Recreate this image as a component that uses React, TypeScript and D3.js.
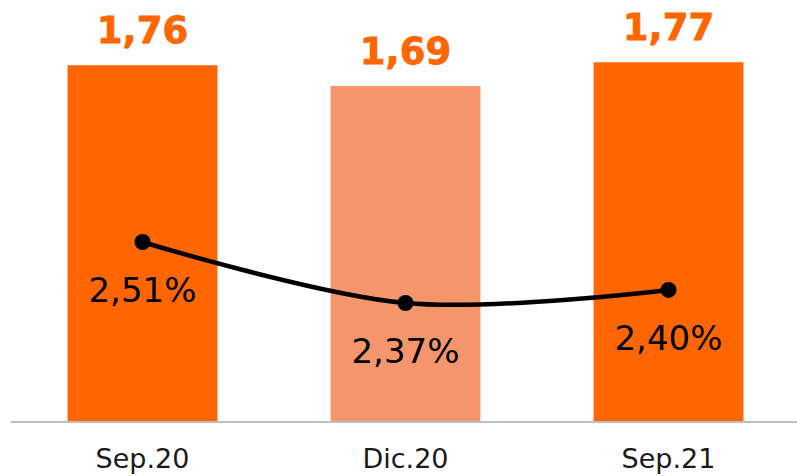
import React from "react";
import * as d3 from "d3";

const categories = ["Sep.20", "Dic.20", "Sep.21"];
const barValues = [1.76, 1.69, 1.77];
const barLabels = ["1,76", "1,69", "1,77"];
const barColors = ["#FF6600", "#F5956B", "#FF6600"];
const lineValues = [2.51, 2.37, 2.4];
const lineLabels = ["2,51%", "2,37%", "2,40%"];

const W = 797;
const H = 476;
const baseY = 422;

export default function App() {
  const x = d3
    .scaleBand<string>()
    .domain(categories)
    .range([11, 800])
    .paddingInner(0.43)
    .paddingOuter(0.215);
  const yBar = d3.scaleLinear().domain([0.558, 2.0]).range([baseY, -6]);
  const yLine = d3.scaleLinear().domain([2.0, 3.0]).range([464.2, 28.5]);

  const pts: [number, number][] = lineValues.map((v, i) => [
    (x(categories[i]) as number) + x.bandwidth() / 2,
    yLine(v),
  ]);
  const lineGen = d3.line().curve(d3.curveCardinal.tension(0));
  const font = "'DejaVu Sans', sans-serif";

  return (
    <svg
      width={W}
      height={H}
      style={{ position: "absolute", left: 0, top: 0, background: "#fff" }}
    >
      {categories.map((c, i) => {
        const bx = x(c) as number;
        const by = yBar(barValues[i]);
        return (
          <g key={c}>
            <rect
              x={bx}
              y={by}
              width={x.bandwidth()}
              height={baseY - by}
              fill={barColors[i]}
            />
            <text
              x={bx + x.bandwidth() / 2}
              y={by - 22}
              textAnchor="middle"
              fontFamily={font}
              fontWeight="bold"
              fontSize={37}
              fill="#FF6600"
              stroke="#FF6600"
              strokeWidth={0.8}
            >
              {barLabels[i]}
            </text>
            <text
              x={bx + x.bandwidth() / 2}
              y={468}
              textAnchor="middle"
              fontFamily={font}
              fontSize={27}
              fill="#1a1a1a"
            >
              {c}
            </text>
          </g>
        );
      })}
      <line x1={11} x2={W} y1={baseY} y2={baseY} stroke="#BFBFBF" strokeWidth={2} />
      <path d={lineGen(pts) || ""} fill="none" stroke="#000" strokeWidth={4.5} />
      {pts.map((p, i) => (
        <g key={i}>
          <circle cx={p[0]} cy={p[1]} r={8} fill="#000" />
          <text
            x={p[0]}
            y={p[1] + 60}
            textAnchor="middle"
            fontFamily={font}
            fontSize={34}
            fill="#000"
          >
            {lineLabels[i]}
          </text>
        </g>
      ))}
    </svg>
  );
}
